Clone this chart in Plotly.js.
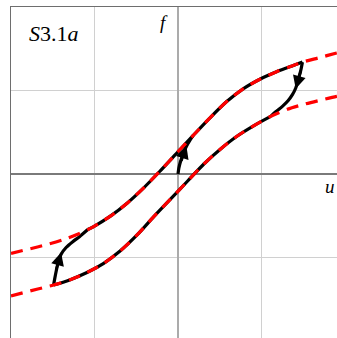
<!DOCTYPE html>
<html>
<head>
<meta charset="utf-8">
<script src="https://cdn.plot.ly/plotly-3.0.1.min.js"></script>
<style>
  html, body { margin: 0; padding: 0; background: #ffffff; }
  #chart { width: 337px; height: 338px; }
</style>
</head>
<body>
<div id="chart"></div>
<script>
// Upper (loading) branch f(u)
var upperU = [-2.0, -1.77, -1.57, -1.37, -1.21, -1.01, -0.81, -0.61, -0.42, -0.22, -0.02, 0.18, 0.38, 0.58, 0.78, 0.98, 1.18, 1.38, 1.49, 1.70, 1.90, 2.0];
var upperF = [-0.95, -0.895, -0.845, -0.785, -0.725, -0.63, -0.505, -0.35, -0.175, 0.03, 0.245, 0.46, 0.67, 0.865, 1.02, 1.135, 1.225, 1.30, 1.34, 1.395, 1.45, 1.475];

// Lower (unloading) branch f(u)
var lowerU = [-2.0, -1.77, -1.57, -1.49, -1.29, -1.09, -0.89, -0.69, -0.49, -0.29, -0.09, 0.11, 0.31, 0.51, 0.71, 0.91, 1.11, 1.31, 1.51, 1.71, 1.90, 2.0];
var lowerF = [-1.46, -1.40, -1.35, -1.33, -1.265, -1.18, -1.07, -0.92, -0.73, -0.51, -0.30, -0.09, 0.12, 0.30, 0.455, 0.58, 0.69, 0.775, 0.835, 0.885, 0.93, 0.95];

// Trajectory: initial rise from the origin
var startU = [0, 0.01, 0.03, 0.06, 0.10, 0.14, 0.18];
var startF = [0, 0.07, 0.15, 0.24, 0.33, 0.40, 0.46];

// Trajectory along the upper branch
var loopUpperU = [-1.08, -1.01, -0.81, -0.61, -0.42, -0.22, -0.02, 0.18, 0.38, 0.58, 0.78, 0.98, 1.18, 1.38, 1.49];
var loopUpperF = [-0.665, -0.63, -0.505, -0.35, -0.175, 0.03, 0.245, 0.46, 0.67, 0.865, 1.02, 1.135, 1.225, 1.30, 1.34];

// Trajectory: reversal at the right tip
var rightTurnU = [1.49, 1.47, 1.44, 1.41, 1.37, 1.32, 1.25, 1.17, 1.11];
var rightTurnF = [1.34, 1.24, 1.13, 1.03, 0.95, 0.88, 0.81, 0.745, 0.69];

// Trajectory along the lower branch
var loopLowerU = [1.11, 0.91, 0.71, 0.51, 0.31, 0.11, -0.09, -0.29, -0.49, -0.69, -0.89, -1.09, -1.29, -1.49];
var loopLowerF = [0.69, 0.58, 0.455, 0.30, 0.12, -0.09, -0.30, -0.51, -0.73, -0.92, -1.07, -1.18, -1.265, -1.33];

// Trajectory: reversal at the left tip
var leftTurnU = [-1.49, -1.47, -1.44, -1.40, -1.34, -1.26, -1.18, -1.08];
var leftTurnF = [-1.33, -1.22, -1.08, -0.96, -0.88, -0.81, -0.75, -0.665];

// Direction arrows: [tail u, tail f, tip u, tip f]
var arrowStart = [0.035, 0.14, 0.10, 0.34];
var arrowRight = [1.475, 1.25, 1.41, 1.02];
var arrowLeft  = [-1.465, -1.17, -1.40, -0.94];

var blackLine = {color: '#000000', width: 3.2, shape: 'spline', smoothing: 0.8};
var redDash = {color: '#ff0000', width: 3.2, dash: '12px,8px', shape: 'spline', smoothing: 0.8};

function seg(u, f, line) {
  return {x: u, y: f, mode: 'lines', line: line, hoverinfo: 'skip', showlegend: false, cliponaxis: true};
}

var traces = [
  seg(startU, startF, blackLine),
  seg(loopUpperU, loopUpperF, blackLine),
  seg(rightTurnU, rightTurnF, blackLine),
  seg(loopLowerU, loopLowerF, blackLine),
  seg(leftTurnU, leftTurnF, blackLine),
  seg(upperU, upperF, redDash),
  seg(lowerU, lowerF, redDash)
];

function arrow(a) {
  return {
    x: a[2], y: a[3], ax: a[0], ay: a[1],
    xref: 'x', yref: 'y', axref: 'x', ayref: 'y',
    text: '', showarrow: true, arrowhead: 2, arrowsize: 1.0,
    arrowwidth: 2.6, arrowcolor: '#000000', standoff: 0
  };
}

var serif = 'Liberation Serif, DejaVu Serif, serif';

var layout = {
  width: 337, height: 338,
  margin: {l: 11, r: 0, t: 7, b: 0, pad: 0},
  paper_bgcolor: '#ffffff', plot_bgcolor: '#ffffff',
  showlegend: false,
  xaxis: {
    range: [-2, 1.904], side: 'top',
    tick0: 0, dtick: 1, ticks: '', showticklabels: false,
    showgrid: true, gridcolor: '#d0d0d0', gridwidth: 1,
    zeroline: true, zerolinecolor: '#ababab', zerolinewidth: 2,
    showline: true, linecolor: '#6e6e6e', linewidth: 1.5, mirror: false,
    fixedrange: true
  },
  yaxis: {
    range: [-1.964, 2],
    tick0: 0, dtick: 1, ticks: '', showticklabels: false,
    showgrid: true, gridcolor: '#d0d0d0', gridwidth: 1,
    zeroline: true, zerolinecolor: '#7a7a7a', zerolinewidth: 1.2,
    showline: true, linecolor: '#6e6e6e', linewidth: 1.5, mirror: false,
    fixedrange: true
  },
  annotations: [
    arrow(arrowStart), arrow(arrowRight), arrow(arrowLeft),
    {x: -1.48, y: 1.68, xref: 'x', yref: 'y', text: '<i>S</i>3.1<i>a</i>', showarrow: false,
     xanchor: 'center', yanchor: 'middle', font: {family: serif, size: 22, color: '#000000'}},
    {x: -0.17, y: 1.82, xref: 'x', yref: 'y', text: '<i>f</i>', showarrow: false,
     xanchor: 'center', yanchor: 'middle', font: {family: serif, size: 19, color: '#000000'}},
    {x: 1.82, y: -0.15, xref: 'x', yref: 'y', text: '<i>u</i>', showarrow: false,
     xanchor: 'center', yanchor: 'middle', font: {family: serif, size: 19, color: '#000000'}}
  ]
};

Plotly.newPlot('chart', traces, layout, {displayModeBar: false, staticPlot: true});
</script>
</body>
</html>
